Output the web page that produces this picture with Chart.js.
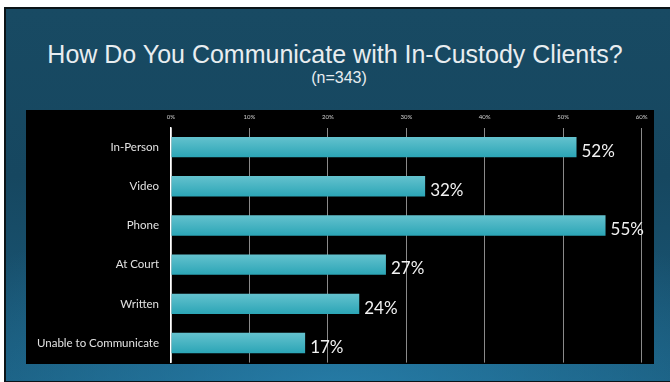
<!DOCTYPE html>
<html>
<head>
<meta charset="utf-8">
<script src="https://cdn.jsdelivr.net/npm/chart.js@4.4.1/dist/chart.umd.min.js"></script>
<style>
  html, body { margin: 0; padding: 0; background: #fff; }
  body { width: 670px; height: 382px; position: relative; overflow: hidden; }
  #slide {
    position: absolute; left: 4px; top: 7px; width: 664px; height: 372px;
    border: 2px solid #0b1418; border-right: none;
    background:
      radial-gradient(ellipse 70% 55% at 50% 105%, rgba(40,130,175,0.85) 0%, rgba(40,130,175,0) 100%),
      linear-gradient(to bottom, #184a63 0%, #164760 45%, #1a5b7c 100%);
  }
  .titulo {
    position: absolute; left: 0; width: 670px; text-align: center;
    font-family: "Liberation Sans", Arial, sans-serif; color: #e8edf0;
  }
  #t1 { top: 42px; font-size: 25px; line-height: 25px; }
  #t2 { top: 70px; font-size: 16px; line-height: 16px; left: 4px; }
  #caixa { position: absolute; left: 26px; top: 110px; width: 628px; height: 254px; background: #000; }
</style>
</head>
<body>
<div id="slide"></div>
<div class="titulo" id="t1">How Do You Communicate with In-Custody Clients?</div>
<div class="titulo" id="t2">(n=343)</div>
<div id="caixa"><canvas id="grafico" width="628" height="254"></canvas></div>
<script>
const categorias = ['In-Person', 'Video', 'Phone', 'At Court', 'Written', 'Unable to Communicate'];
const valores = [51.7, 32.4, 55.4, 27.4, 24.0, 17.1];
const rotulos = ['52%', '32%', '55%', '27%', '24%', '17%'];
const ticksX = [0, 10, 20, 30, 40, 50, 60];
const larguraBarra = 0.52;

// gradiente vertical em cada barra
function corBarra(context) {
  const chart = context.chart;
  const escala = chart.scales.y;
  if (!chart.chartArea || !escala) return '#3fb3c3';
  const centro = escala.getPixelForValue(context.dataIndex);
  const meia = (escala.height / categorias.length) * larguraBarra / 2;
  const g = chart.ctx.createLinearGradient(0, centro - meia, 0, centro + meia);
  g.addColorStop(0, '#64c2ce');
  g.addColorStop(1, '#2ba5b6');
  return g;
}

// rótulos de porcentagem no fim das barras
const rotulosBarras = {
  id: 'rotulosBarras',
  afterDatasetsDraw(chart) {
    const ctx = chart.ctx;
    ctx.save();
    ctx.font = '17px Lato, "Open Sans", sans-serif';
    ctx.fillStyle = '#f2f2f2';
    ctx.textAlign = 'left';
    ctx.textBaseline = 'alphabetic';
    chart.getDatasetMeta(0).data.forEach((bar, i) => {
      ctx.fillText(rotulos[i], bar.x + 5, bar.y + bar.height / 2 - 0.5);
    });
    ctx.restore();
  }
};

new Chart(document.getElementById('grafico').getContext('2d'), {
  type: 'bar',
  data: {
    labels: categorias,
    datasets: [{
      data: valores,
      backgroundColor: corBarra,
      borderWidth: 0,
      barPercentage: larguraBarra,
      categoryPercentage: 1.0
    }]
  },
  options: {
    indexAxis: 'y',
    responsive: false,
    animation: false,
    devicePixelRatio: 1,
    layout: { padding: { top: 0, left: 0, right: 11.7, bottom: 1.4 } },
    plugins: { legend: { display: false }, tooltip: { enabled: false } },
    scales: {
      x: {
        position: 'top',
        min: 0, max: 60,
        afterFit: s => { s.height = 17.5; },
        afterBuildTicks: s => { s.ticks = ticksX.map(v => ({ value: v })); },
        border: { display: false },
        grid: { color: '#8a8a8a', lineWidth: 1, drawTicks: false },
        ticks: {
          color: '#d0d0d0',
          padding: 6.5,
          font: { family: 'Lato', size: 6 },
          callback: v => v + '%'
        }
      },
      y: {
        afterFit: s => { s.width = 145; s.paddingTop = 0; s.paddingBottom = 0; },
        border: { display: true, color: '#ffffff', width: 1.5 },
        grid: { display: false, drawTicks: false },
        ticks: {
          color: '#e2e2e2',
          padding: 12,
          font: { family: 'Lato', size: 11.5 }
        }
      }
    }
  },
  plugins: [rotulosBarras]
});
</script>
</body>
</html>
